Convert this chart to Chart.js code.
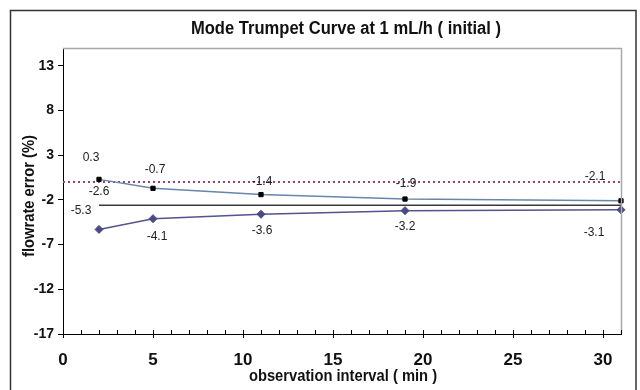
<!DOCTYPE html>
<html>
<head>
<meta charset="utf-8">
<script src="https://cdn.jsdelivr.net/npm/chart.js@4.4.1/dist/chart.umd.min.js"></script>
<style>
  html, body { margin: 0; padding: 0; background: #ffffff; }
  #wrap { position: relative; width: 640px; height: 390px; }
</style>
</head>
<body>
<div id="wrap"><canvas id="c" width="640" height="390"></canvas></div>
<script>
// ---- data ----
const chartTitle = "Mode Trumpet Curve at 1 mL/h ( initial )";
const xTitle = "observation interval ( min )";
const yTitle = "flowrate error (%)";
const windows = [2, 5, 11, 19, 31];           // observation interval (min)
const maxError = [0.3, -0.7, -1.4, -1.9, -2.1]; // upper trumpet (%)
const minError = [-5.3, -4.1, -3.6, -3.2, -3.1]; // lower trumpet (%)
const meanErrorX = [2, 31];
const meanError = -2.6;
const zeroLineX = [0, 31];
const zeroLine = 0;
const yTickValues = [-17, -12, -7, -2, 3, 8, 13];
const xMin = 0, xMax = 31, yMin = -17, yMax = 15;

// ---- label placement (pixel offsets, styling only) ----
const upperLabelOffsets = [[-8, -22], [2, -19], [1, -13], [1, -15], [-26, -24]];
const lowerLabelOffsets = [[-18, -19], [4, 18], [1, 16], [0, 16], [-27, 23]];
const meanLabelOffset = [0, -14];

const FONT = "'Liberation Sans', Arial, sans-serif";

const pts = (xs, ys) => xs.map((x, i) => ({ x: x, y: ys[i] }));

function condensedText(ctx, text, x, y, sx) {
  ctx.save();
  ctx.translate(x, y);
  ctx.scale(sx, 1);
  ctx.fillText(text, 0, 0);
  ctx.restore();
}

const decorPlugin = {
  id: 'decor',
  beforeDraw(chart) {
    const ctx = chart.ctx;
    ctx.save();
    ctx.fillStyle = '#ffffff';
    ctx.fillRect(0, 0, chart.width, chart.height);
    // outer frame
    ctx.strokeStyle = '#333333';
    ctx.lineWidth = 1.5;
    ctx.strokeRect(10.5, 10.5, 625.5, 400);
    ctx.restore();
  },
  afterDraw(chart) {
    const ctx = chart.ctx;
    const a = chart.chartArea;
    const xs = chart.scales.x;
    ctx.save();
    // gray top/right plot border
    ctx.strokeStyle = '#a8a8a8';
    ctx.lineWidth = 1.5;
    ctx.beginPath();
    ctx.moveTo(a.left, a.top + 0.5);
    ctx.lineTo(a.right + 0.5, a.top + 0.5);
    ctx.lineTo(a.right + 0.5, a.bottom);
    ctx.stroke();
    // x tick marks (cross style)
    ctx.strokeStyle = '#000000';
    ctx.lineWidth = 1;
    xs.ticks.forEach(t => {
      const px = Math.round(xs.getPixelForValue(t.value)) + 0.5;
      const major = t.value % 5 === 0;
      ctx.beginPath();
      ctx.moveTo(px, a.bottom - 4);
      ctx.lineTo(px, a.bottom + (major ? 4 : 0));
      ctx.stroke();
    });
    // titles
    ctx.fillStyle = '#111111';
    ctx.textAlign = 'center';
    ctx.textBaseline = 'middle';
    ctx.font = "bold 18px " + FONT;
    condensedText(ctx, chartTitle, 346, 29, 0.92);
    ctx.font = "bold 16px " + FONT;
    condensedText(ctx, xTitle, 343, 377, 0.92);
    ctx.save();
    ctx.translate(30, 196);
    ctx.rotate(-Math.PI / 2);
    ctx.font = "bold 16px " + FONT;
    condensedText(ctx, yTitle, 0, 0, 0.92);
    ctx.restore();
    ctx.restore();
  },
  afterDatasetsDraw(chart) {
    const ctx = chart.ctx;
    ctx.save();
    ctx.fillStyle = '#222222';
    ctx.font = "12px " + FONT;
    ctx.textAlign = 'center';
    ctx.textBaseline = 'middle';
    const put = (dsIndex, values, offsets) => {
      const meta = chart.getDatasetMeta(dsIndex);
      meta.data.forEach((el, i) => {
        if (!offsets[i]) return;
        ctx.fillText(values[i].toFixed(1), el.x + offsets[i][0], el.y + offsets[i][1]);
      });
    };
    put(0, maxError, upperLabelOffsets);
    put(1, minError, lowerLabelOffsets);
    const m = chart.getDatasetMeta(2).data[0];
    ctx.fillText(meanError.toFixed(1), m.x + meanLabelOffset[0], m.y + meanLabelOffset[1]);
    ctx.restore();
  }
};

new Chart(document.getElementById('c'), {
  type: 'line',
  data: {
    datasets: [
      {
        label: 'max',
        data: pts(windows, maxError),
        borderColor: '#6886a8',
        borderWidth: 1.5,
        pointStyle: 'rect',
        pointRadius: 3,
        pointBackgroundColor: '#000000',
        pointBorderColor: '#000000',
        pointBorderWidth: 1,
        tension: 0,
        clip: false
      },
      {
        label: 'min',
        data: pts(windows, minError),
        borderColor: '#53538e',
        borderWidth: 1.5,
        pointStyle: 'rectRot',
        pointRadius: 4,
        pointBackgroundColor: '#4a4a88',
        pointBorderColor: '#4a4a88',
        pointBorderWidth: 1,
        tension: 0,
        clip: false
      },
      {
        label: 'mean',
        data: pts(meanErrorX, [meanError, meanError]),
        borderColor: '#3a3a3a',
        borderWidth: 1.5,
        pointRadius: 0,
        tension: 0,
        clip: false
      },
      {
        label: 'zero',
        data: pts(zeroLineX, [zeroLine, zeroLine]),
        borderColor: '#9a4470',
        borderWidth: 2,
        borderDash: [2, 3],
        pointRadius: 0,
        tension: 0,
        clip: false
      }
    ]
  },
  plugins: [decorPlugin],
  options: {
    responsive: false,
    animation: false,
    devicePixelRatio: 1,
    layout: { padding: { top: 48, right: 19, left: 0, bottom: 0 } },
    plugins: {
      legend: { display: false },
      tooltip: { enabled: false },
      title: { display: false }
    },
    scales: {
      x: {
        type: 'linear',
        min: xMin,
        max: xMax,
        afterBuildTicks(scale) {
          const t = [];
          for (let v = xMin; v <= xMax; v++) t.push({ value: v });
          scale.ticks = t;
        },
        afterFit(scale) { scale.height = 390 - 334; },
        grid: { display: true, drawOnChartArea: false, drawTicks: false },
        border: { display: true, color: '#000000', width: 1 },
        ticks: {
          autoSkip: false,
          maxRotation: 0,
          padding: 16,
          color: '#111111',
          font: { family: FONT, size: 17, weight: 'bold' },
          callback: v => (v % 5 === 0 ? String(v) : '')
        }
      },
      y: {
        type: 'linear',
        min: yMin,
        max: yMax,
        afterBuildTicks(scale) {
          scale.ticks = yTickValues.map(v => ({ value: v }));
        },
        afterFit(scale) { scale.width = 63; },
        grid: { display: true, drawOnChartArea: false, drawTicks: true, tickLength: 5, color: '#000000' },
        border: { display: true, color: '#000000', width: 1 },
        ticks: {
          padding: 4,
          color: '#111111',
          font: { family: FONT, size: 14, weight: 'bold' },
          callback: v => String(v)
        }
      }
    }
  }
});
</script>
</body>
</html>
